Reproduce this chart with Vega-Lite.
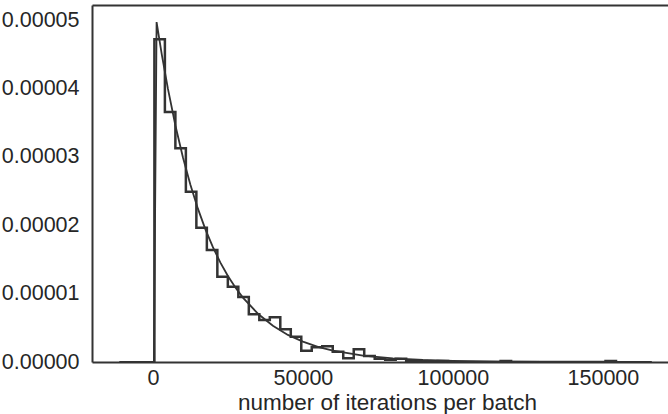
{
  "$schema": "https://vega.github.io/schema/vega-lite/v6.json",
  "width": 576,
  "height": 357,
  "autosize": "none",
  "padding": {"left": 92, "top": 5, "right": 0, "bottom": 52},
  "background": "white",
  "config": {
    "view": {"stroke": null},
    "font": "Liberation Sans, Arial, sans-serif",
    "axis": {
      "labelFont": "Liberation Sans, Arial, sans-serif",
      "titleFont": "Liberation Sans, Arial, sans-serif",
      "labelFontSize": 21.5,
      "titleFontSize": 22.5,
      "titleFontWeight": "normal",
      "labelColor": "#262626",
      "titleColor": "#262626",
      "domainColor": "#333333",
      "domainWidth": 2,
      "ticks": false,
      "tickSize": 0,
      "grid": false
    }
  },
  "datasets": {
    "hist": [
      {"i": 0, "edge": 500, "density": 0},
      {"i": 1, "edge": 500, "density": 4.72e-5},
      {"i": 2, "edge": 3997, "density": 3.655e-5},
      {"i": 3, "edge": 7494, "density": 3.124e-5},
      {"i": 4, "edge": 10991, "density": 2.49e-5},
      {"i": 5, "edge": 14488, "density": 1.963e-5},
      {"i": 6, "edge": 17985, "density": 1.637e-5},
      {"i": 7, "edge": 21482, "density": 1.247e-5},
      {"i": 8, "edge": 24979, "density": 1.10e-5},
      {"i": 9, "edge": 28476, "density": 0.95e-5},
      {"i": 10, "edge": 31973, "density": 0.70e-5},
      {"i": 11, "edge": 35470, "density": 0.614e-5},
      {"i": 12, "edge": 38967, "density": 0.653e-5},
      {"i": 13, "edge": 42464, "density": 0.478e-5},
      {"i": 14, "edge": 45961, "density": 0.37e-5},
      {"i": 15, "edge": 49458, "density": 0.165e-5},
      {"i": 16, "edge": 52955, "density": 0.215e-5},
      {"i": 17, "edge": 56452, "density": 0.23e-5},
      {"i": 18, "edge": 59949, "density": 0.15e-5},
      {"i": 19, "edge": 63446, "density": 0.054e-5},
      {"i": 20, "edge": 66943, "density": 0.186e-5},
      {"i": 21, "edge": 70440, "density": 0.088e-5},
      {"i": 22, "edge": 73937, "density": 0.048e-5},
      {"i": 23, "edge": 77434, "density": 0.032e-5},
      {"i": 24, "edge": 80931, "density": 0.048e-5},
      {"i": 25, "edge": 84428, "density": 0.016e-5},
      {"i": 26, "edge": 87925, "density": 0.016e-5},
      {"i": 27, "edge": 91422, "density": 0},
      {"i": 28, "edge": 94919, "density": 0.016e-5},
      {"i": 29, "edge": 98416, "density": 0},
      {"i": 30, "edge": 101913, "density": 0},
      {"i": 31, "edge": 105410, "density": 0},
      {"i": 32, "edge": 108907, "density": 0},
      {"i": 33, "edge": 112404, "density": 0},
      {"i": 34, "edge": 115901, "density": 0.016e-5},
      {"i": 35, "edge": 119398, "density": 0},
      {"i": 36, "edge": 122895, "density": 0},
      {"i": 37, "edge": 126392, "density": 0},
      {"i": 38, "edge": 129889, "density": 0},
      {"i": 39, "edge": 133386, "density": 0},
      {"i": 40, "edge": 136883, "density": 0},
      {"i": 41, "edge": 140380, "density": 0},
      {"i": 42, "edge": 143877, "density": 0},
      {"i": 43, "edge": 147374, "density": 0},
      {"i": 44, "edge": 150871, "density": 0.016e-5},
      {"i": 45, "edge": 154368, "density": 0.016e-5},
      {"i": 46, "edge": 154368, "density": 0}
    ],
    "fit": [
      {"x": -11200, "pdf": 0},
      {"x": 340, "pdf": 0},
      {"x": 1230, "pdf": 4.97e-5},
      {"x": 3000, "pdf": 4.486e-5},
      {"x": 5000, "pdf": 3.997e-5},
      {"x": 7500, "pdf": 3.459e-5},
      {"x": 10000, "pdf": 2.994e-5},
      {"x": 12500, "pdf": 2.591e-5},
      {"x": 15000, "pdf": 2.242e-5},
      {"x": 17500, "pdf": 1.940e-5},
      {"x": 20000, "pdf": 1.679e-5},
      {"x": 22500, "pdf": 1.453e-5},
      {"x": 25000, "pdf": 1.258e-5},
      {"x": 27500, "pdf": 1.088e-5},
      {"x": 30000, "pdf": 0.942e-5},
      {"x": 35000, "pdf": 0.706e-5},
      {"x": 40000, "pdf": 0.529e-5},
      {"x": 45000, "pdf": 0.396e-5},
      {"x": 50000, "pdf": 0.297e-5},
      {"x": 55000, "pdf": 0.222e-5},
      {"x": 60000, "pdf": 0.1664e-5},
      {"x": 70000, "pdf": 0.0933e-5},
      {"x": 80000, "pdf": 0.0524e-5},
      {"x": 90000, "pdf": 0.0294e-5},
      {"x": 100000, "pdf": 0.0165e-5},
      {"x": 115000, "pdf": 0.0069e-5},
      {"x": 130000, "pdf": 0.0029e-5},
      {"x": 150000, "pdf": 0.0009e-5},
      {"x": 166300, "pdf": 0.0004e-5}
    ]
  },
  "layer": [
    {
      "data": {"name": "hist"},
      "mark": {"type": "line", "interpolate": "step-after", "color": "#333333", "strokeWidth": 2.5, "clip": true},
      "encoding": {
        "x": {
          "field": "edge", "type": "quantitative",
          "scale": {"domain": [-20300, 171700], "nice": false, "zero": false},
          "axis": {
            "values": [0, 50000, 100000, 150000], "format": "d",
            "title": "number of iterations per batch",
            "labelPadding": 5, "titlePadding": 3,
            "titleX": 295, "titleAlign": "center"
          }
        },
        "y": {
          "field": "density", "type": "quantitative",
          "scale": {"domain": [0, 5.22e-5], "nice": false, "zero": false},
          "axis": {
            "values": [0, 1e-5, 2e-5, 3e-5, 4e-5, 5e-5], "format": ".5f",
            "title": null, "labelPadding": 13
          }
        },
        "order": {"field": "i", "type": "quantitative"}
      }
    },
    {
      "data": {"name": "fit"},
      "mark": {"type": "line", "color": "#333333", "strokeWidth": 1.8, "clip": true},
      "encoding": {
        "x": {
          "field": "x", "type": "quantitative",
          "axis": {"orient": "top", "labels": false, "ticks": false, "title": null, "values": []}
        },
        "y": {"field": "pdf", "type": "quantitative"}
      }
    }
  ],
  "resolve": {"axis": {"x": "independent"}}
}
